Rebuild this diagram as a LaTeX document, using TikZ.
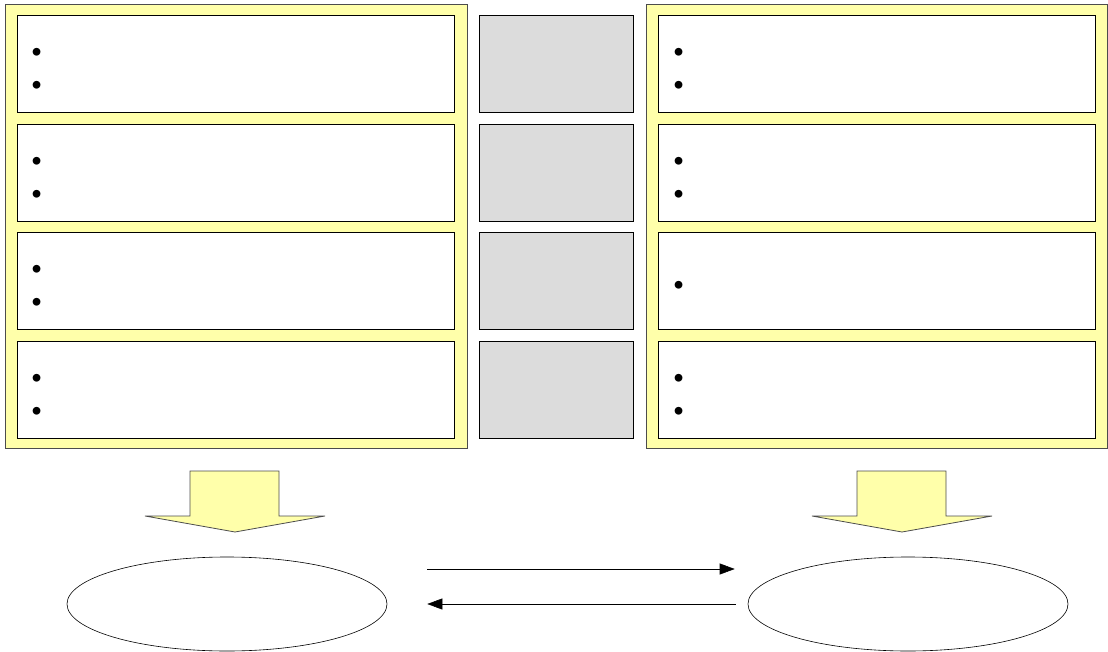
\documentclass[tikz,border=0pt]{standalone}
\usetikzlibrary{shapes.geometric,arrows.meta}
\definecolor{paleyellow}{RGB}{255,255,170}
\definecolor{boxgray}{RGB}{220,220,220}
\begin{document}
\begin{tikzpicture}[x=1pt,y=-1pt,
        panel/.style={draw=black!70,fill=paleyellow,line width=0.8pt},
        itembox/.style={draw,fill=white,line width=0.9pt,anchor=north west,inner sep=0pt,minimum width=437pt,minimum height=97pt},
        graybox/.style={draw,fill=boxgray,line width=0.9pt,anchor=north west,inner sep=0pt,minimum width=154pt,minimum height=97pt},
        dot/.style={inner sep=0pt,font=\Huge,scale=1.4,yshift=-4pt},
        goal/.style={draw,ellipse,line width=0.6pt,minimum width=320pt,minimum height=94pt},
        flow/.style={line width=0.6pt,-{Triangle[length=15pt,width=11pt]}}]
    \useasboundingbox (0,0) rectangle (1108,652);
    % yellow panels
    \draw[panel] (5,4) rectangle (467,448);
    \draw[panel] (646,4) rectangle (1107,448);
    % rows of boxes
    \foreach \r/\t in {1/15,2/124,3/232,4/341} {
        \node[itembox] (left\r) at (17,\t) {};
        \node[graybox] (mid\r) at (479,\t) {};
        \node[itembox] (right\r) at (658,\t) {};
        \node[dot] (ldotA\r) at (37,\t+34) {\textbullet};
        \node[dot] (ldotB\r) at (37,\t+67) {\textbullet};
    }
    \foreach \r/\t in {1/15,2/124,4/341} {
        \node[dot] (rdotA\r) at (679,\t+34) {\textbullet};
        \node[dot] (rdotB\r) at (679,\t+67) {\textbullet};
    }
    \node[dot] (rdotA3) at (679,282) {\textbullet};
    % block arrows
    \draw[panel] (190,471) -- (279,471) -- (279,516) -- (325,516) -- (235,532) -- (145,516) -- (190,516) -- cycle;
    \draw[panel] (857,471) -- (946,471) -- (946,516) -- (992,516) -- (902,532) -- (812,516) -- (857,516) -- cycle;
    % goals
    \node[goal] (lgoal) at (227,604) {};
    \node[goal] (rgoal) at (908,604) {};
    \draw[flow] ([xshift=40pt,yshift=35pt]lgoal.east) -- ([xshift=-13pt,yshift=35pt]rgoal.west);
    \draw[flow] ([xshift=-12pt]rgoal.west) -- ([xshift=40pt]lgoal.east);
\end{tikzpicture}
\end{document}
